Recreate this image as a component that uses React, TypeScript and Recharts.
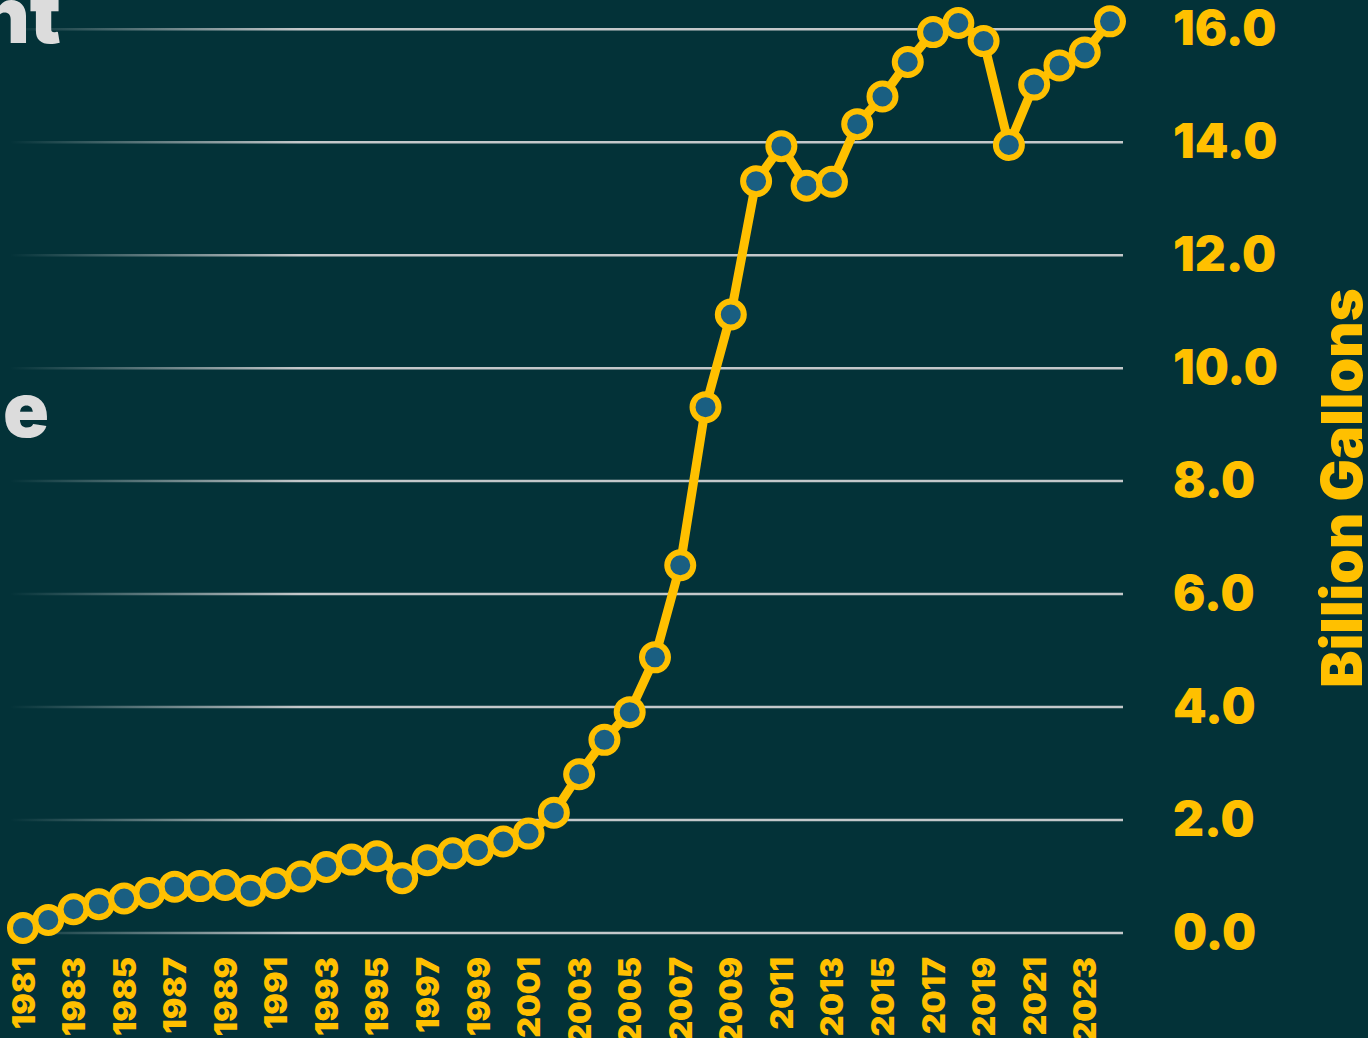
import React from "react";
import { LineChart, Line, XAxis, YAxis, CartesianGrid } from "recharts";

const years = [
  "1981", "1982", "1983", "1984", "1985", "1986", "1987", "1988", "1989", "1990",
  "1991", "1992", "1993", "1994", "1995", "1996", "1997", "1998", "1999", "2000",
  "2001", "2002", "2003", "2004", "2005", "2006", "2007", "2008", "2009", "2010",
  "2011", "2012", "2013", "2014", "2015", "2016", "2017", "2018", "2019", "2020",
  "2021", "2022", "2023", "2024",
];

const gallons = [
  0.09, 0.23, 0.42, 0.51, 0.61, 0.71, 0.82, 0.83, 0.85, 0.75,
  0.88, 1.0, 1.17, 1.3, 1.36, 0.97, 1.29, 1.41, 1.47, 1.62,
  1.76, 2.13, 2.81, 3.42, 3.91, 4.88, 6.51, 9.31, 10.95, 13.31,
  13.93, 13.23, 13.3, 14.32, 14.81, 15.42, 15.95, 16.11, 15.79, 13.95,
  15.02, 15.36, 15.59, 16.14,
];

const yTicks = [0, 2, 4, 6, 8, 10, 12, 14, 16];
const yLabel = "Billion Gallons";
const titleFragments = ["nt", "e"];

const data = years.map((y, i) => ({ year: y, value: gallons[i] }));

const BG = "#033238";
const YELLOW = "#FFC000";
const DOT = "#1A5F82";
const FONT = "Inter, 'Noto Sans', sans-serif";

const XTick = (props: any) => {
  const { x, y, payload } = props;
  return (
    <g transform={`translate(${x},${y + 24})`}>
      <text
        transform="rotate(-90)"
        textAnchor="end"
        dominantBaseline="central"
        fill={YELLOW}
        fontFamily={FONT}
        fontWeight={900}
        fontSize={32}
      >
        {payload.value}
      </text>
    </g>
  );
};

const YTick = (props: any) => {
  const { x, y, payload } = props;
  return (
    <text
      x={x + 50}
      y={y - 2}
      textAnchor="start"
      dominantBaseline="central"
      fill={YELLOW}
      fontFamily={FONT}
      fontWeight={900}
      fontSize={48}
    >
      {Number(payload.value).toFixed(1)}
    </text>
  );
};

export default function App() {
  return (
    <div
      style={{
        position: "absolute",
        left: 0,
        top: 0,
        width: 1368,
        height: 1038,
        background: BG,
        overflow: "hidden",
      }}
    >
      <LineChart
        width={1368}
        height={1038}
        data={data}
        margin={{ top: 1, right: 0, bottom: 0, left: 10 }}
      >
        <defs>
          <linearGradient id="gridGrad" gradientUnits="userSpaceOnUse" x1="10" y1="0" x2="300" y2="0">
            <stop offset="0%" stopColor="#c4c8ca" stopOpacity={0} />
            <stop offset="100%" stopColor="#c4c8ca" stopOpacity={1} />
          </linearGradient>
        </defs>
        <CartesianGrid
          vertical={false}
          horizontalValues={yTicks}
          stroke="url(#gridGrad)"
          strokeWidth={2.5}
        />
        <XAxis
          dataKey="year"
          type="category"
          interval={1}
          height={105}
          axisLine={false}
          tickLine={false}
          tickSize={0}
          tickMargin={0}
          padding={{ left: 13, right: 13 }}
          tick={<XTick />}
        />
        <YAxis
          orientation="right"
          width={245}
          domain={[0, 16.5]}
          ticks={yTicks}
          axisLine={false}
          tickLine={false}
          tickSize={0}
          tickMargin={0}
          tick={<YTick />}
        />
        <Line
          type="linear"
          dataKey="value"
          stroke={YELLOW}
          strokeWidth={9}
          dot={{ r: 13, fill: DOT, stroke: YELLOW, strokeWidth: 6 }}
          activeDot={false}
          isAnimationActive={false}
        />
      </LineChart>
      <svg
        width={1368}
        height={1038}
        style={{ position: "absolute", left: 0, top: 0, pointerEvents: "none" }}
      >
        <text x={61} y={43} textAnchor="end" fill="#dcdcdc" fontFamily={FONT} fontWeight={900} fontSize={78}>
          {titleFragments[0]}
        </text>
        <text x={49} y={437} textAnchor="end" fill="#dcdcdc" fontFamily={FONT} fontWeight={900} fontSize={76}>
          {titleFragments[1]}
        </text>
        <text
          transform="translate(1362,488) rotate(-90)"
          textAnchor="middle"
          fill={YELLOW}
          fontFamily={FONT}
          fontWeight={900}
          fontSize={56}
        >
          {yLabel}
        </text>
      </svg>
    </div>
  );
}
